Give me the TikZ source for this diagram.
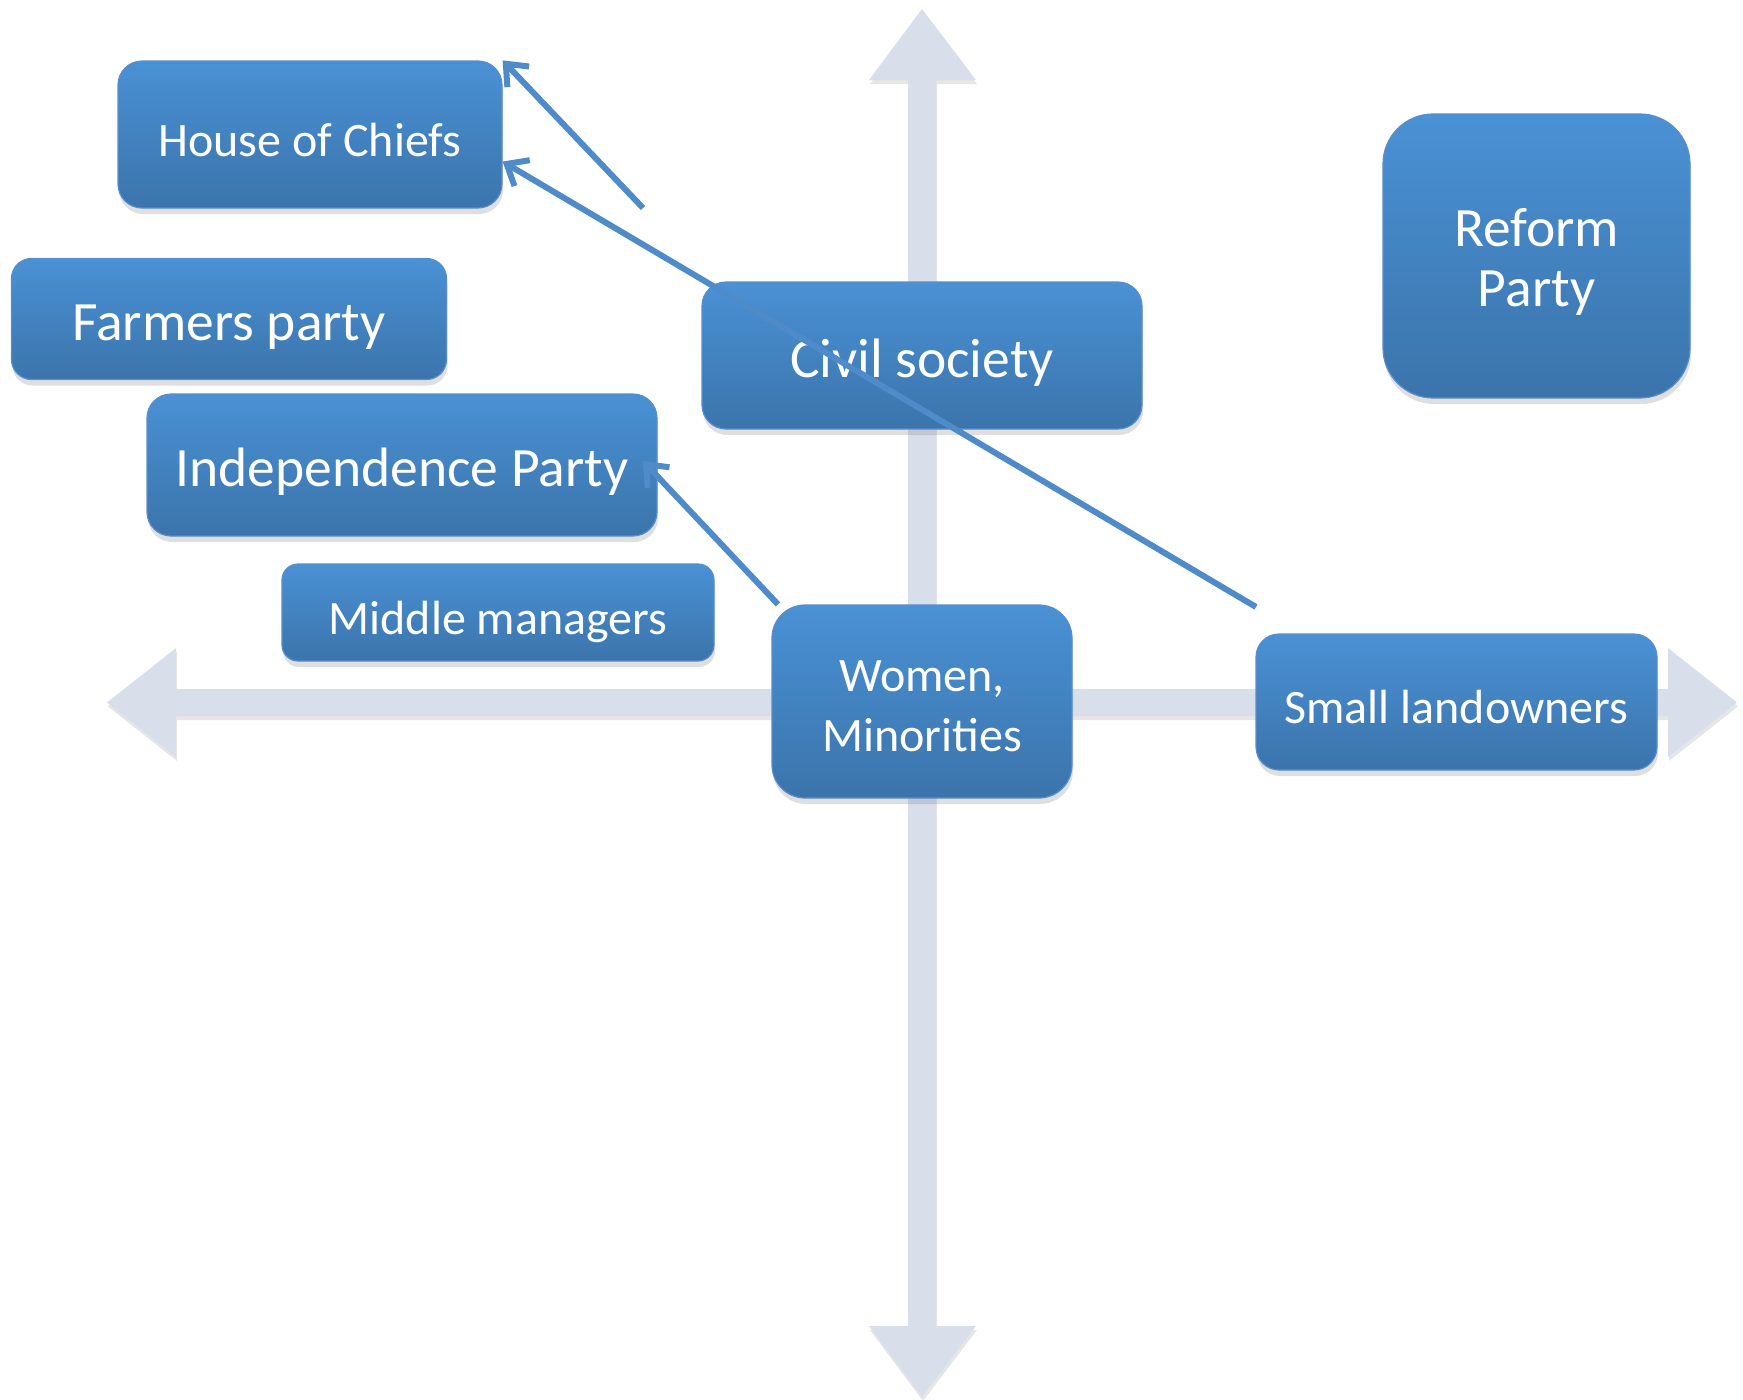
\documentclass[tikz,border=0pt]{standalone}
\usepackage{fontspec}
\setmainfont{Carlito}
\usetikzlibrary{arrows.meta,shadows}
\definecolor{axisgray}{RGB}{217,222,235}
\definecolor{boxtop}{RGB}{74,145,213}
\definecolor{boxbot}{RGB}{59,116,171}
\definecolor{boxedge}{RGB}{88,142,206}
\definecolor{linkblue}{RGB}{79,138,201}

\begin{document}
\begin{tikzpicture}[x=1pt,y=-1pt,
  partybox/.style={rectangle, rounded corners=#1, top color=boxtop, bottom color=boxbot,
    draw=boxedge, line width=1.2pt, text=white, align=center, inner sep=0pt,
    text height=43pt, text depth=0pt,
    drop shadow={shadow xshift=1pt, shadow yshift=-6pt, opacity=0.25}},
  partybox/.default=24pt,
  twolines/.style={text height=100pt},
  txtsmall/.style={font=\fontsize{48}{60}\selectfont},
  txtlarge/.style={font=\fontsize{55.5}{60}\selectfont},
  axisshape/.style={fill=axisgray, drop shadow={shadow xshift=1pt, shadow yshift=-4pt, opacity=0.2}},
  link/.style={draw=linkblue, line width=6pt, -{Straight Barb[length=18pt,width=30pt]}}]
  \useasboundingbox (0,0) rectangle (1743,1400);
  % Axes
  \path[axisshape] (908,80) -- (869,80) -- (922,9) -- (976,80) -- (936,80) -- (936,1326)
    -- (976,1326) -- (922,1397) -- (869,1326) -- (908,1326) -- cycle;
  \path[axisshape] (176,689) -- (176,648) -- (107,702.5) -- (176,757) -- (176,716) -- (1668,716)
    -- (1668,757) -- (1737,702.5) -- (1668,648) -- (1668,689) -- cycle;
  % Boxes
  \node[partybox, txtsmall, minimum width=384pt, minimum height=147pt] (chiefs) at (310,134.5) {House of Chiefs};
  \node[partybox=20pt, txtlarge, minimum width=435pt, minimum height=121pt] (farmers) at (229,319) {Farmers party};
  \node[partybox, txtlarge, minimum width=510pt, minimum height=142pt] (indep) at (402,465) {Independence Party};
  \node[partybox=16pt, txtsmall, minimum width=432pt, minimum height=97pt] (middle) at (498,612.5) {Middle managers};
  \node[partybox, txtlarge, minimum width=440pt, minimum height=147pt] (civil) at (922,355.5) {Civil society};
  \node[partybox=50pt, txtlarge, twolines, minimum width=307pt, minimum height=284pt] (reform) at (1536.5,256) {Reform\\Party};
  \node[partybox=33pt, txtsmall, twolines, minimum width=300pt, minimum height=193pt] (women) at (922,701.5) {Women,\\Minorities};
  \node[partybox=23pt, txtsmall, minimum width=401pt, minimum height=136pt] (slandown) at (1456.5,702) {Small landowners};
  % Arrows
  \coordinate (chiefsA) at (643,208);
  \coordinate (chiefsB) at (1256,607);
  \coordinate (indepTip) at (643,461);
  \draw[link] (chiefsA) -- (chiefs.north east);
  \draw[link] (chiefsB) -- (chiefs.-8.4);
  \draw[link] (women.146) -- (indepTip);
\end{tikzpicture}
\end{document}
